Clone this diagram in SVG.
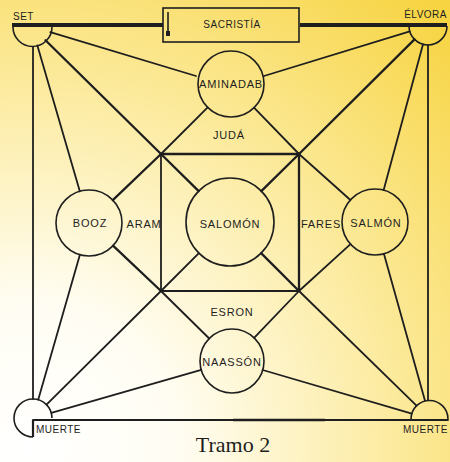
<svg xmlns="http://www.w3.org/2000/svg" width="450" height="462" viewBox="0 0 450 462">
<defs>
<radialGradient id="bg" gradientUnits="userSpaceOnUse" cx="30" cy="450" r="600">
<stop offset="0" stop-color="#ffffff"/>
<stop offset="0.25" stop-color="#fffdf2"/>
<stop offset="0.6" stop-color="#fcebA0"/>
<stop offset="1" stop-color="#f7d442"/>
</radialGradient>
<style>
.ln{stroke:#1e1e1e;stroke-width:1.8;fill:none;stroke-linecap:round}
.tk{stroke:#1e1e1e;stroke-width:2.3;fill:none;stroke-linecap:round}
.nd{stroke:#1e1e1e;stroke-width:1.6;fill:none}
.t{font-family:"Liberation Sans",Arial,sans-serif;font-size:11px;fill:#1e1e1e;text-anchor:middle;letter-spacing:0.8px}
.s{font-family:"Liberation Sans",Arial,sans-serif;font-size:10px;fill:#1e1e1e;letter-spacing:0.5px}
</style>
</defs>
<rect width="450" height="462" fill="url(#bg)"/>

<g id="connectors">
<!-- frame -->
<line x1="12" y1="25" x2="163" y2="25" stroke="#1e1e1e" stroke-width="4"/>
<line x1="300" y1="25" x2="447" y2="25" stroke="#1e1e1e" stroke-width="4"/>
<line class="ln" x1="33" y1="47" x2="33" y2="399"/>
<line class="ln" x1="428" y1="45" x2="428" y2="400"/>
<line class="ln" x1="33" y1="420" x2="448" y2="420"/>
<line x1="233" y1="420" x2="325" y2="420" stroke="#1e1e1e" stroke-width="2.6"/>
<!-- inner square -->
<line class="tk" x1="161" y1="154" x2="299" y2="154"/>
<line class="ln" x1="161" y1="291" x2="299" y2="291"/>
<line class="ln" x1="161" y1="154" x2="161" y2="291"/>
<line class="tk" x1="299" y1="154" x2="299" y2="291"/>
<!-- spokes from corners -->
<line class="ln" x1="50.3" y1="32.2" x2="196" y2="76"/>
<line class="ln" x1="37.3" y1="45.3" x2="79.8" y2="191.3"/>
<line class="tk" x1="45.5" y1="40.3" x2="161" y2="154"/>
<line class="ln" x1="409.8" y1="31.4" x2="264" y2="76"/>
<line class="ln" x1="423" y1="44.3" x2="383.6" y2="190.2"/>
<line class="tk" x1="414.5" y1="39.4" x2="299" y2="154"/>
<line class="ln" x1="38.2" y1="399.7" x2="79.9" y2="254.7"/>
<line class="ln" x1="51.3" y1="412.8" x2="201.2" y2="369.8"/>
<line class="ln" x1="46.5" y1="404.6" x2="161" y2="291"/>
<line class="ln" x1="425" y1="400.7" x2="383.9" y2="253.8"/>
<line class="ln" x1="411.8" y1="413.7" x2="262.7" y2="370"/>
<line class="ln" x1="416.5" y1="405.7" x2="299" y2="291"/>
<!-- square corners to circles -->
<line class="ln" x1="161" y1="154" x2="207.7" y2="107.3"/>
<line class="tk" x1="161" y1="154" x2="112.8" y2="200.2"/>
<line class="tk" x1="161" y1="154" x2="198.7" y2="191.1"/>
<line class="ln" x1="299" y1="154" x2="254" y2="107.7"/>
<line class="ln" x1="299" y1="154" x2="350.4" y2="200"/>
<line class="tk" x1="299" y1="154" x2="261.3" y2="191.1"/>
<line class="tk" x1="161" y1="291" x2="113" y2="245.7"/>
<line class="ln" x1="161" y1="291" x2="209.2" y2="338.5"/>
<line class="ln" x1="161" y1="291" x2="198.9" y2="253.1"/>
<line class="ln" x1="299" y1="291" x2="350.5" y2="244.2"/>
<line class="ln" x1="299" y1="291" x2="254.1" y2="337.9"/>
<line class="tk" x1="299" y1="291" x2="261.1" y2="253.1"/>
</g>

<g id="set">
<path class="nd" d="M13 27 A19.5 19.5 0 0 0 52 27"/>
<text class="s" x="13" y="20">SET</text>
</g>
<g id="elvora">
<path class="nd" d="M409 26 A19 19 0 0 0 447 26"/>
<text class="s" x="447" y="18" text-anchor="end">ÉLVORA</text>
</g>
<g id="sacristia">
<rect class="nd" x="163" y="8" width="136" height="34"/>
<line class="nd" x1="168" y1="12" x2="168" y2="35"/>
<rect x="166" y="31" width="4" height="5" fill="#1e1e1e"/>
<text class="s" x="232" y="28" text-anchor="middle">SACRISTÍA</text>
</g>
<g id="muerte-left">
<path class="nd" d="M33 437 A19 19 0 1 1 52 418"/>
<line x1="33" y1="420" x2="33" y2="437" stroke="#1e1e1e" stroke-width="2.2"/>
<text class="s" x="36" y="433">MUERTE</text>
</g>
<g id="muerte-right">
<path class="nd" d="M411 419 A18.5 18.5 0 0 1 448 419"/>
<text class="s" x="448" y="433" text-anchor="end">MUERTE</text>
</g>
<g id="aminadab">
<circle class="nd" cx="231" cy="84" r="33"/>
<text class="t" x="231" y="88">AMINADAB</text>
</g>
<g id="juda"><text class="t" x="229" y="139">JUDÁ</text></g>
<g id="booz">
<circle class="nd" cx="89" cy="223" r="33"/>
<text class="t" x="90" y="227">BOOZ</text>
</g>
<g id="aram"><text class="t" x="144" y="228">ARAM</text></g>
<g id="salomon">
<circle class="nd" cx="230" cy="222" r="44"/>
<text class="t" x="230" y="228">SALOMÓN</text>
</g>
<g id="fares"><text class="t" x="321" y="228">FARES</text></g>
<g id="salmon">
<circle class="nd" cx="375" cy="222" r="33"/>
<text class="t" x="376" y="227">SALMÓN</text>
</g>
<g id="esron"><text class="t" x="232" y="316">ESRON</text></g>
<g id="naasson">
<circle class="nd" cx="232" cy="361" r="32"/>
<text class="t" x="232" y="366">NAASSÓN</text>
</g>
<text x="233" y="452" font-family="'Liberation Serif','Times New Roman',serif" font-size="22" fill="#1e1e1e" text-anchor="middle">Tramo 2</text>
</svg>
